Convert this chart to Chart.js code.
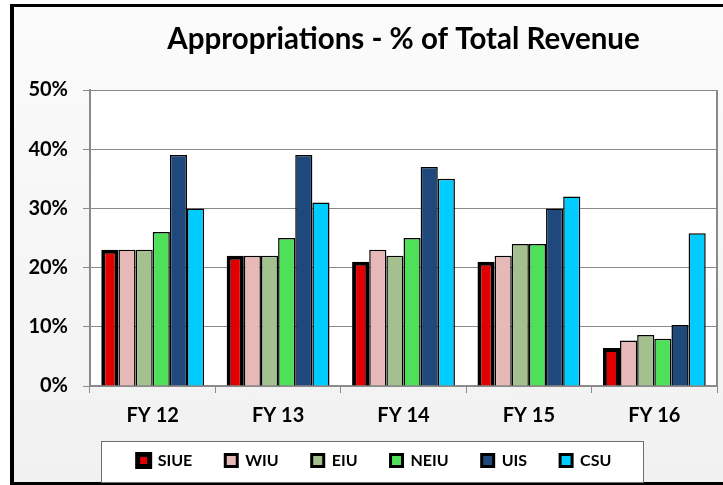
<!DOCTYPE html>
<html>
<head>
<meta charset="utf-8">
<title>Appropriations - % of Total Revenue</title>
<script src="https://cdn.jsdelivr.net/npm/chart.js@4.4.1/dist/chart.umd.min.js"></script>
<style>
    html, body { margin: 0; padding: 0; background: #fff; }
    #wrap { position: relative; width: 723px; height: 485px; overflow: hidden; }
    #frame {
        position: absolute; left: 10px; top: 4px; width: 760px; height: 475px;
        border-left: 4px solid #000; border-top: 3px solid #000; border-bottom: 3px solid #000;
        background: linear-gradient(#fbfbfb, #f1f1f1);
    }
    #chart { position: absolute; left: 0; top: 0; }
</style>
</head>
<body>
<div id="wrap">
    <div id="frame"></div>
    <canvas id="chart" width="723" height="485"></canvas>
</div>
<script>
var years = ['FY 12', 'FY 13', 'FY 14', 'FY 15', 'FY 16'];
var schools = ['SIUE', 'WIU', 'EIU', 'NEIU', 'UIS', 'CSU'];
var siue = [23, 22, 21, 21, 6.4];
var wiu = [23, 22, 23, 22, 7.7];
var eiu = [23, 22, 22, 24, 8.6];
var neiu = [26, 25, 25, 24, 8.0];
var uis = [39, 39, 37, 30, 10.3];
var csu = [30, 31, 35, 32, 25.8];
var yTicks = [0, 10, 20, 30, 40, 50];

var fills = ['#e00000', '#e6b9b8', '#a4c08f', '#4fe05a', '#1f497d', '#00ccff'];
var FONT = 'Lato, "Open Sans", sans-serif';

// white plot area plus its right-hand edge
var plotBg = {
    id: 'plotBg',
    beforeDraw: function (chart) {
        var a = chart.chartArea, ctx = chart.ctx;
        ctx.save();
        ctx.fillStyle = '#ffffff';
        ctx.fillRect(a.left, a.top, a.right - a.left, a.bottom - a.top);
        ctx.restore();
    },
    afterDraw: function (chart) {
        var a = chart.chartArea, ctx = chart.ctx;
        ctx.save();
        ctx.strokeStyle = '#8a8a8a';
        ctx.lineWidth = 2;
        ctx.beginPath();
        ctx.moveTo(a.right, a.top);
        ctx.lineTo(a.right, a.bottom);
        ctx.stroke();
        ctx.restore();
    }
};

// legend sits a little right of centre and tucked up under the axis labels
var legendShift = {
    id: 'legendShift',
    afterLayout: function (chart) {
        var lg = chart.legend;
        if (!lg) return;
        lg.left += 16;
        lg.right += 16;
        lg.top -= 10.5;
        lg.bottom -= 10.5;
    }
};

// box round the legend
var legendBox = {
    id: 'legendBox',
    beforeDraw: function (chart) {
        var lg = chart.legend;
        if (!lg || !lg.legendHitBoxes.length) return;
        var first = lg.legendHitBoxes[0];
        var last = lg.legendHitBoxes[lg.legendHitBoxes.length - 1];
        var cy = first.top + first.height / 2;
        var x0 = Math.round(first.left - 37) + 0.5;
        var x1 = Math.round(last.left + last.width + 32) + 0.5;
        var y0 = Math.round(cy - 20) + 0.5;
        var ctx = chart.ctx;
        ctx.save();
        ctx.fillStyle = '#ffffff';
        ctx.strokeStyle = '#6e6e6e';
        ctx.lineWidth = 1;
        ctx.fillRect(x0, y0, x1 - x0, 41);
        ctx.strokeRect(x0, y0, x1 - x0, 41);
        ctx.restore();
    }
};

var seriesValues = [siue, wiu, eiu, neiu, uis, csu];
var datasets = schools.map(function (name, i) {
    return {
        label: name,
        data: seriesValues[i],
        backgroundColor: fills[i],
        borderColor: '#000000',
        borderWidth: i === 0 ? 4 : 1.5,
        categoryPercentage: 0.82,
        barPercentage: 1
    };
});

new Chart(document.getElementById('chart'), {
    type: 'bar',
    data: { labels: years, datasets: datasets },
    options: {
        responsive: false,
        animation: false,
        devicePixelRatio: 1,
        layout: { padding: { left: 0, right: 6, top: 0, bottom: 5 } },
        plugins: {
            title: {
                display: true,
                text: 'Appropriations - % of Total Revenue',
                fullSize: false,
                color: '#000',
                font: { family: FONT, size: 29.5, weight: 'bold' },
                padding: { top: 21.3, bottom: 33.3 }
            },
            legend: {
                position: 'bottom',
                maxHeight: 50,
                labels: {
                    color: '#000',
                    font: { family: FONT, size: 16, weight: 'bold' },
                    boxWidth: 12,
                    boxHeight: 12,
                    padding: 33,
                    generateLabels: function (chart) {
                        var items = Chart.defaults.plugins.legend.labels.generateLabels(chart);
                        items.forEach(function (it, i) {
                            it.lineWidth = i === 0 ? 5 : 3;
                        });
                        return items;
                    }
                }
            },
            tooltip: { enabled: false }
        },
        scales: {
            x: {
                offset: true,
                grid: {
                    offset: true,
                    drawOnChartArea: false,
                    tickLength: 7,
                    color: '#8a8a8a'
                },
                border: { color: '#8a8a8a', width: 2 },
                ticks: {
                    color: '#000',
                    font: { family: FONT, size: 20, weight: 'bold' },
                    padding: 11
                },
                afterFit: function (s) { s.height = 44; }
            },
            y: {
                min: 0,
                max: 50,
                afterBuildTicks: function (s) {
                    s.ticks = yTicks.map(function (v) { return { value: v }; });
                },
                grid: { color: '#8a8a8a', tickLength: 7 },
                border: { color: '#8a8a8a', width: 2 },
                ticks: {
                    color: '#000',
                    font: { family: FONT, size: 20, weight: 'bold' },
                    padding: 15,
                    callback: function (v) { return v + '%'; }
                },
                afterFit: function (s) { s.width = 90; }
            }
        }
    },
    plugins: [plotBg, legendShift, legendBox]
});
</script>
</body>
</html>
